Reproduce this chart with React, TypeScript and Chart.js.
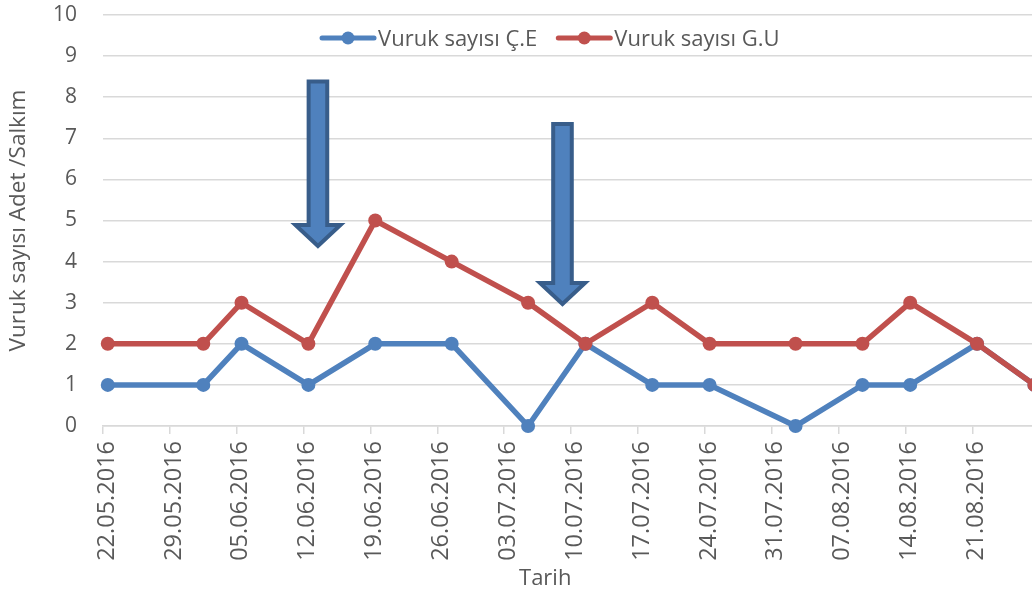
import React, { useEffect, useRef } from "react";
import { Chart, registerables } from "chart.js";

Chart.register(...registerables);

// ---------- data ----------
const START_DATE_UTC = Date.UTC(2016, 4, 22); // 22.05.2016
const sampleDays = [0, 10, 14, 21, 28, 36, 44, 50, 57, 63, 72, 79, 84, 91, 97];
const seriesCE = [1, 1, 2, 1, 2, 2, 0, 2, 1, 1, 0, 1, 1, 2, 1];
const seriesGU = [2, 2, 3, 2, 5, 4, 3, 2, 3, 2, 2, 2, 3, 2, 1];
const tickDays = [0, 7, 14, 21, 28, 35, 42, 49, 56, 63, 70, 77, 84, 91];
const yTickValues = [0, 1, 2, 3, 4, 5, 6, 7, 8, 9, 10];
const labelCE = "Vuruk sayısı Ç.E";
const labelGU = "Vuruk sayısı G.U";
const yTitle = "Vuruk sayısı Adet /Salkım";
const xTitle = "Tarih";
// arrows (annotation), in data coordinates
const arrowDays = [22, 47.6];
const arrowTops = [8.38, 7.35];
const arrowTips = [4.38, 2.97];

const BLUE = "#4F81BD";
const RED = "#C0504D";
const ARROW_EDGE = "#385D8A";
const TEXT = "#595959";
const GRID = "#D9D9D9";
const FONT = "'Open Sans', 'Noto Sans', sans-serif";

function fmtDay(day: number): string {
  const d = new Date(START_DATE_UTC + Math.round(day) * 86400000);
  const dd = String(d.getUTCDate()).padStart(2, "0");
  const mm = String(d.getUTCMonth() + 1).padStart(2, "0");
  return `${dd}.${mm}.${d.getUTCFullYear()}`;
}

const arrowPlugin = {
  id: "arrows",
  afterDatasetsDraw(chart: any) {
    const { ctx, scales } = chart;
    const xs = scales.x;
    const ys = scales.y;
    ctx.save();
    for (let i = 0; i < arrowDays.length; i++) {
      const cx = xs.getPixelForValue(arrowDays[i]);
      const top = ys.getPixelForValue(arrowTops[i]);
      const tip = ys.getPixelForValue(arrowTips[i]);
      const shaftHalf = 9.3;
      const headHalf = 22.5;
      const headLen = 21;
      const base = tip - headLen;
      ctx.beginPath();
      ctx.moveTo(cx - shaftHalf, top);
      ctx.lineTo(cx + shaftHalf, top);
      ctx.lineTo(cx + shaftHalf, base);
      ctx.lineTo(cx + headHalf, base);
      ctx.lineTo(cx, tip);
      ctx.lineTo(cx - headHalf, base);
      ctx.lineTo(cx - shaftHalf, base);
      ctx.closePath();
      ctx.fillStyle = BLUE;
      ctx.fill();
      ctx.lineWidth = 4;
      ctx.lineJoin = "miter";
      ctx.strokeStyle = ARROW_EDGE;
      ctx.stroke();
    }
    ctx.restore();
  },
};

const overlayPlugin = {
  id: "overlayText",
  afterDraw(chart: any) {
    const { ctx, chartArea } = chart;
    ctx.save();
    // legend
    ctx.font = `22px ${FONT}`;
    ctx.textBaseline = "alphabetic";
    ctx.textAlign = "left";
    const items = [
      { label: labelCE, color: BLUE },
      { label: labelGU, color: RED },
    ];
    const sample = 52;
    const gapText = 4;
    const gapItems = 21;
    const widths = items.map((it) => ctx.measureText(it.label).width);
    const total =
      items.length * (sample + gapText) + widths.reduce((a, b) => a + b, 0) + gapItems * (items.length - 1);
    const center = chartArea.left + (chartArea.right - chartArea.left) * 0.482;
    let x = center - total / 2;
    const ly = 38;
    items.forEach((it, i) => {
      ctx.strokeStyle = it.color;
      ctx.lineWidth = 5;
      ctx.lineCap = "round";
      ctx.beginPath();
      ctx.moveTo(x, ly);
      ctx.lineTo(x + sample, ly);
      ctx.stroke();
      ctx.fillStyle = it.color;
      ctx.beginPath();
      ctx.arc(x + sample / 2, ly, 6.5, 0, Math.PI * 2);
      ctx.fill();
      ctx.fillStyle = TEXT;
      ctx.fillText(it.label, x + sample + gapText, 46);
      x += sample + gapText + widths[i] + gapItems;
    });
    // x axis title
    ctx.font = `22px ${FONT}`;
    ctx.textAlign = "center";
    ctx.fillStyle = TEXT;
    ctx.fillText(xTitle, chartArea.left + (chartArea.right - chartArea.left) * 0.476, 585);
    ctx.restore();
  },
};

export default function App() {
  const ref = useRef<HTMLCanvasElement | null>(null);

  useEffect(() => {
    if (!ref.current) return;
    const chart = new Chart(ref.current, {
      type: "line",
      data: {
        datasets: [
          {
            label: labelCE,
            data: sampleDays.map((d, i) => ({ x: d, y: seriesCE[i] })),
            borderColor: BLUE,
            backgroundColor: BLUE,
            pointBackgroundColor: BLUE,
            pointBorderColor: BLUE,
            borderWidth: 5.5,
            pointRadius: 7,
            pointBorderWidth: 0,
            tension: 0,
            clip: false,
            order: 1,
          },
          {
            label: labelGU,
            data: sampleDays.map((d, i) => ({ x: d, y: seriesGU[i] })),
            borderColor: RED,
            backgroundColor: RED,
            pointBackgroundColor: RED,
            pointBorderColor: RED,
            borderWidth: 5.5,
            pointRadius: 7,
            pointBorderWidth: 0,
            tension: 0,
            clip: false,
            order: 0,
          },
        ],
      },
      options: {
        animation: false,
        responsive: true,
        maintainAspectRatio: false,
        layout: { autoPadding: false, padding: { top: 15, left: 0, right: 0, bottom: 0 } },
        plugins: {
          legend: { display: false },
          tooltip: { enabled: false },
        },
        scales: {
          x: {
            type: "linear",
            min: -0.5,
            max: 96.75,
            afterBuildTicks: (scale: any) => {
              scale.ticks = tickDays.map((d) => ({ value: d - 0.5 }));
            },
            afterFit: (scale: any) => {
              scale.height = 165;
              scale.paddingLeft = 0;
              scale.paddingRight = 0;
            },
            grid: {
              drawOnChartArea: false,
              drawTicks: true,
              tickLength: 8,
              color: GRID,
              lineWidth: 1.5,
            },
            border: { display: true, color: GRID, width: 1.5 },
            ticks: {
              autoSkip: false,
              maxRotation: 90,
              minRotation: 90,
              padding: 7,
              labelOffset: 4,
              color: TEXT,
              font: { family: FONT, size: 23.5 },
              callback: (value: any) => fmtDay(Number(value) + 0.5),
            },
          },
          y: {
            min: 0,
            max: 10,
            afterBuildTicks: (scale: any) => {
              scale.ticks = yTickValues.map((v) => ({ value: v }));
            },
            afterFit: (scale: any) => {
              scale.width = 103;
              scale.paddingTop = 0;
              scale.paddingBottom = 0;
            },
            grid: { color: GRID, lineWidth: 1.5, drawTicks: false },
            border: { display: false },
            ticks: {
              padding: 26,
              color: TEXT,
              font: { family: FONT, size: 21 },
            },
            title: {
              display: true,
              text: yTitle,
              color: TEXT,
              font: { family: FONT, size: 22.5 },
              padding: { top: 5, bottom: 0 },
            },
          },
        },
      },
      plugins: [arrowPlugin, overlayPlugin],
    });
    return () => chart.destroy();
  }, []);

  return (
    <div style={{ position: "fixed", left: 0, top: 0, width: 1032, height: 591, background: "#fff" }}>
      <canvas ref={ref} style={{ display: "block" }} />
    </div>
  );
}
